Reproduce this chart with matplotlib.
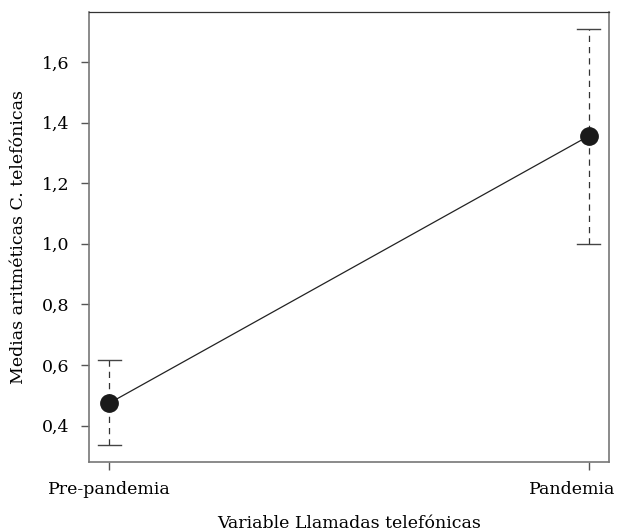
import numpy as np
import matplotlib
matplotlib.use("Agg")
from matplotlib import pyplot as plt
import matplotlib.transforms as mtransforms

matplotlib.rcParams.update({'font.size': 12.5, 'font.family': ['DejaVu Serif']})

# datos
categorias = ['Pre-pandemia', 'Pandemia']
medias = [0.474, 1.356]
lim_inf = [0.335, 1.001]
lim_sup = [0.617, 1.710]

X = np.arange(len(categorias)) + 1

fig = plt.figure(figsize=(6.2, 5.32), dpi=100)
ax = fig.add_axes([89/620, 1 - 462/532, 520/620, 450/532])

# barras de error discontinuas
for x, lo, hi in zip(X, lim_inf, lim_sup):
    ax.plot([x, x], [lo, hi], color='#333333', lw=0.9, ls=(0, (5, 4)))
    ax.plot([x - 0.024, x + 0.024], [lo, lo], color='#444444', lw=1.0)
    ax.plot([x - 0.024, x + 0.024], [hi, hi], color='#444444', lw=1.0)

ax.plot(X, medias, color='#222222', lw=0.9, marker='o', markersize=12.5,
        markerfacecolor='#1a1a1a', markeredgecolor='#1a1a1a', zorder=3)

ymin, ymax = min(lim_inf), max(lim_sup)
pad = (ymax - ymin) * 0.04
ax.set_ylim(ymin - pad, ymax + pad)
ax.set_xlim(1 - 0.042, 2 + 0.042)

ax.set_xticks(X)
ax.set_xticklabels(categorias)
yt = [0.4, 0.6, 0.8, 1.0, 1.2, 1.4, 1.6]
ax.set_yticks(yt)
ax.set_yticklabels([('%.1f' % v).replace('.', ',') for v in yt])
ax.tick_params(length=6, width=1.0, color='#555555', pad=8)

# la etiqueta de la derecha se ajusta al borde
lab = ax.get_xticklabels()[1]
lab.set_ha('right')
lab.set_transform(lab.get_transform() + mtransforms.ScaledTranslation(0.27, 0, fig.dpi_scale_trans))

for s in ['left', 'bottom', 'right']:
    ax.spines[s].set_color('#777777')
    ax.spines[s].set_linewidth(1.2)
ax.spines['top'].set_color('#333333')
ax.spines['top'].set_linewidth(0.9)

ax.set_xlabel('Variable Llamadas telefónicas', va='center')
ax.xaxis.set_label_coords(0.5, -(523 - 462) / 450)
ax.set_ylabel('Medias aritméticas C. telefónicas', va='center')
ax.yaxis.set_label_coords(-(89 - 19) / 520, 0.5)

plt.savefig('out.png', dpi=100)
